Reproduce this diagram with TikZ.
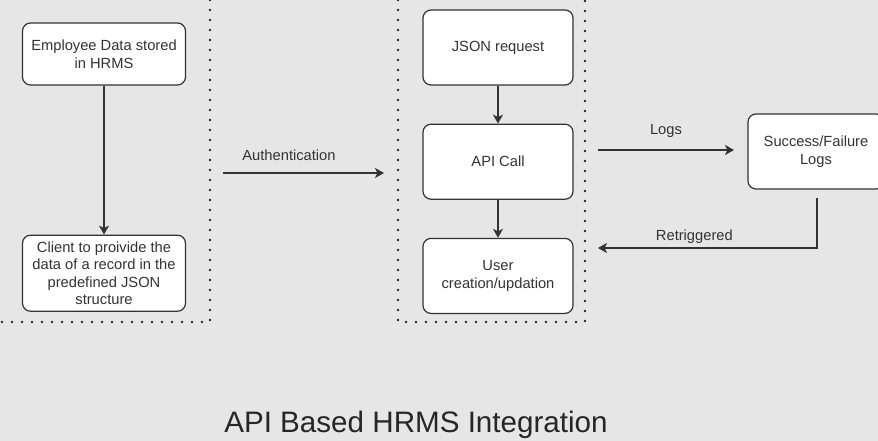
\documentclass[tikz,border=0pt]{standalone}
\usepackage{fontspec}
\setmainfont{Liberation Sans}
\usetikzlibrary{positioning,arrows.meta}
\definecolor{bggray}{HTML}{E6E6E6}
\definecolor{inkgray}{HTML}{333333}

\begin{document}
\begin{tikzpicture}[x=1pt,y=-1pt,
    box/.style={draw=inkgray,line width=1.2pt,fill=white,rounded corners=8pt,
      minimum width=150pt,minimum height=75pt,align=center,text=inkgray,
      font=\fontsize{14.7pt}{17.5pt}\selectfont,inner sep=0pt},
    link/.style={draw=inkgray,line width=1.3pt,-{Stealth[length=9pt,width=10pt,inset=2.5pt]}},
    lbl/.style={text=inkgray,font=\fontsize{14.7pt}{17.5pt}\selectfont},
    dotline/.style={draw=black!85,line width=2.8pt,line cap=round,dash pattern=on 0pt off 10pt}]
        \fill[bggray] (0,0) rectangle (878,441);
        \useasboundingbox (0,0) rectangle (878,441);

        % the two dotted areas
        \draw[dotline] (210,0) -- (210,322) -- (0,322);
        \draw[dotline] (398,0) -- (398,322) -- (585,322) -- (585,0);

        \node(hrms)[box,minimum width=163pt,minimum height=62pt] at (104,54) {Employee Data stored\\in HRMS};
        \node(client)[box,minimum width=163pt,minimum height=76pt,below=149pt of hrms] {Client to proivide the\\data of a record in the\\predefined JSON\\structure};

        \node(json)[box] at (498,47.5) {JSON request};
        \node(api)[box,below=38pt of json] {API Call};
        \node(user)[box,below=38pt of api] {User\\creation/updation};

        \node(logs)[box,minimum width=136pt] at (816,151.5) {Success/Failure\\Logs};

        \coordinate(authstart) at (223,173);
        \coordinate(authend) at (384,173);
        \coordinate(logstart) at (598,150);
        \coordinate(logend) at (734,150);
        \coordinate(retrystart) at (817,198);
        \coordinate(retryend) at (598,248);

        \draw[link] (hrms) -- (client);
        \draw[link] (json) -- (api);
        \draw[link] (api) -- (user);
        \draw[link] (authstart) -- node[lbl,above=8pt,pos=0.41] {Authentication} (authend);
        \draw[link] (logstart) -- node[lbl,above=8pt] {Logs} (logend);
        \draw[link] (retrystart) |- node[lbl,above=0pt,pos=0.78] {Retriggered} (retryend);

        \node(title)[text=black!85,font=\fontsize{29.6pt}{34pt}\selectfont,anchor=base] at (416,432) {API Based HRMS Integration};
    \end{tikzpicture}
\end{document}
